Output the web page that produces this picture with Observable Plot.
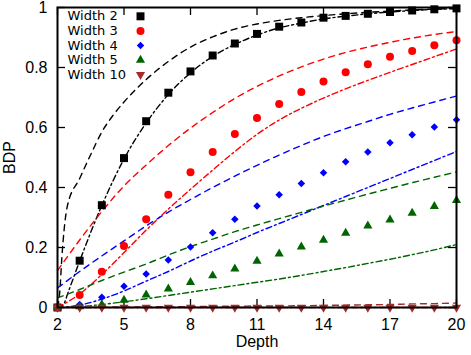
<!DOCTYPE html>
<html>
<head>
<meta charset="utf-8">
<script src="https://cdn.jsdelivr.net/npm/d3@7"></script>
<script src="https://cdn.jsdelivr.net/npm/@observablehq/plot@0.6"></script>
<style>
  body { margin: 0; background: #fff; }
  #chart svg { display: block; }
</style>
</head>
<body>
<div id="chart"></div>
<script>
// Tree depth (x) and tick values
const depths = [2, 3, 4, 5, 6, 7, 8, 9, 10, 11, 12, 13, 14, 15, 16, 17, 18, 19, 20];
const xTicks = [2, 5, 8, 11, 14, 17, 20];
const yTicks = [0, 0.2, 0.4, 0.6, 0.8, 1];

const seriesLabels = ["Width 2", "Width 3", "Width 4", "Width 5", "Width 10"];

// Measured BDP per depth
const bdpWidth2 = [0, 0.156, 0.341, 0.498, 0.621, 0.716, 0.787, 0.840, 0.880, 0.912, 0.936, 0.950, 0.966, 0.972, 0.979, 0.985, 0.990, 0.994, 0.997];
const bdpWidth3 = [0, 0.042, 0.119, 0.205, 0.294, 0.376, 0.451, 0.518, 0.578, 0.632, 0.678, 0.718, 0.753, 0.784, 0.811, 0.836, 0.855, 0.874, 0.891];
const bdpWidth4 = [0, 0.010, 0.034, 0.071, 0.112, 0.158, 0.202, 0.249, 0.294, 0.338, 0.376, 0.413, 0.449, 0.486, 0.518, 0.549, 0.576, 0.602, 0.626];
const bdpWidth5 = [0, 0.003, 0.010, 0.025, 0.042, 0.062, 0.084, 0.106, 0.129, 0.155, 0.179, 0.202, 0.225, 0.248, 0.272, 0.292, 0.315, 0.337, 0.357];
const bdpWidth10 = [0, 0, 0, 0, 0, 0, 0, 0, 0, 0, 0, 0, 0, 0, 0, 0, 0, 0, 0];

// Upper bounds (dashed)
const upper2Depths = [2, 2.1, 2.2, 2.3, 2.45, 3, 3.5, 4, 4.5, 5, 6, 7, 8, 9, 10, 11, 12, 13, 14, 15, 16, 17, 18, 19, 20];
const upperWidth2 = [0, 0.05, 0.17, 0.26, 0.34, 0.43, 0.51, 0.585, 0.64, 0.685, 0.76, 0.82, 0.868, 0.902, 0.928, 0.945, 0.957, 0.966, 0.973, 0.979, 0.984, 0.988, 0.992, 0.995, 0.997];
const upperWidth3 = [0.123, 0.225, 0.32, 0.405, 0.475, 0.54, 0.598, 0.65, 0.697, 0.737, 0.772, 0.802, 0.828, 0.85, 0.868, 0.884, 0.898, 0.91, 0.92];
const upperWidth4 = [0.065, 0.12, 0.172, 0.222, 0.272, 0.318, 0.36, 0.40, 0.438, 0.474, 0.508, 0.54, 0.57, 0.596, 0.62, 0.644, 0.665, 0.685, 0.705];
const upperWidth5 = [0.032, 0.06, 0.09, 0.118, 0.145, 0.175, 0.203, 0.228, 0.253, 0.275, 0.296, 0.317, 0.338, 0.358, 0.378, 0.397, 0.416, 0.434, 0.452];
const upperWidth10 = [0, 0.001, 0.001, 0.002, 0.002, 0.003, 0.003, 0.004, 0.004, 0.005, 0.005, 0.006, 0.007, 0.008, 0.009, 0.010, 0.012, 0.013, 0.015];

// Lower bounds (dash-dot)
const lower2Depths = [2, 2.25, 2.5, 3, 4, 5, 6, 7, 8, 9, 10, 11, 12, 13, 14, 15, 16, 17, 18, 19, 20];
const lowerWidth2 = [0, 0.008, 0.055, 0.155, 0.34, 0.495, 0.615, 0.71, 0.782, 0.837, 0.877, 0.908, 0.932, 0.948, 0.962, 0.971, 0.979, 0.985, 0.99, 0.994, 0.996];
const lowerWidth3 = [0, 0.045, 0.11, 0.183, 0.258, 0.328, 0.394, 0.458, 0.52, 0.577, 0.625, 0.664, 0.698, 0.729, 0.757, 0.784, 0.81, 0.836, 0.862];
const lowerWidth4 = [0, 0.008, 0.028, 0.055, 0.088, 0.12, 0.155, 0.188, 0.218, 0.25, 0.28, 0.31, 0.34, 0.37, 0.40, 0.43, 0.46, 0.49, 0.52];
const lowerWidth5 = [0, 0.003, 0.01, 0.019, 0.029, 0.04, 0.051, 0.062, 0.073, 0.084, 0.095, 0.107, 0.12, 0.133, 0.147, 0.161, 0.176, 0.192, 0.21];
const lowerWidth10 = [0, 0, 0, 0, 0, 0, 0, 0, 0, 0, 0, 0, 0, 0, 0, 0, 0, 0, 0];

// Styling per series
const colors = ["#000000", "#ff0000", "#0000ff", "#006400", "#a52a2a"];
const symbols = ["square", "circle", "diamond2", "triangle", "triangle"];
const rotations = [0, 0, 0, 0, 180];
const radii = [4.5, 4, 3.4, 3.4, 3.4];

const bdp = [bdpWidth2, bdpWidth3, bdpWidth4, bdpWidth5, bdpWidth10];
const upper = [upperWidth2, upperWidth3, upperWidth4, upperWidth5, upperWidth10];
const lower = [lowerWidth2, lowerWidth3, lowerWidth4, lowerWidth5, lowerWidth10];
const upperX = [upper2Depths, depths, depths, depths, depths];
const lowerX = [lower2Depths, depths, depths, depths, depths];

const W = 471, H = 355;
const mL = 57, mR = 15, mT = 7, mB = 48;
const innerW = W - mL - mR, innerH = H - mT - mB;
const tick = 8;

const toRows = (xs, ys) => xs.map((d, j) => ({depth: d, value: ys[j]}));

const marks = [];

// inward ticks on all four sides
marks.push(
  Plot.ruleX(xTicks, {x: d => d, insetTop: innerH - tick, strokeWidth: 1.3}),
  Plot.ruleX(xTicks, {x: d => d, insetBottom: innerH - tick, strokeWidth: 1.3}),
  Plot.ruleY(yTicks, {y: d => d, insetRight: innerW - tick, strokeWidth: 1.3}),
  Plot.ruleY(yTicks, {y: d => d, insetLeft: innerW - tick, strokeWidth: 1.3})
);

// bounds then measured points, series by series
seriesLabels.forEach((label, i) => {
  marks.push(
    Plot.line(toRows(upperX[i], upper[i]), {
      x: "depth", y: "value", stroke: colors[i], strokeWidth: 1.4,
      strokeDasharray: "6,5", curve: "monotone-x"
    }),
    Plot.line(toRows(lowerX[i], lower[i]), {
      x: "depth", y: "value", stroke: colors[i], strokeWidth: 1.4,
      strokeDasharray: "6,3,2,3", curve: "monotone-x"
    })
  );
});
seriesLabels.forEach((label, i) => {
  marks.push(
    Plot.dot(toRows(depths, bdp[i]), {
      x: "depth", y: "value", symbol: symbols[i], r: radii[i],
      fill: colors[i], stroke: "none", rotate: rotations[i]
    })
  );
});

marks.push(Plot.frame({stroke: "#000", strokeWidth: 2}));

// axes
marks.push(
  Plot.axisX({ticks: xTicks, tickSize: 0, tickPadding: 11, label: null, tickFormat: d => String(d)}),
  Plot.axisY({ticks: yTicks, tickSize: 0, tickPadding: 10, label: null, tickFormat: d => String(d)}),
  Plot.text(["Depth"], {frameAnchor: "bottom", dy: 34, lineAnchor: "middle", textAnchor: "middle"}),
  Plot.text(["BDP"], {frameAnchor: "left", dx: -48, rotate: -90, lineAnchor: "middle", textAnchor: "middle"})
);

// legend, top-left inside the frame
seriesLabels.forEach((label, i) => {
  const dy = 8.8 + i * 14.6;
  marks.push(
    Plot.text([label], {
      frameAnchor: "top-left", dx: 10, dy, textAnchor: "start", lineAnchor: "middle",
      fontFamily: "DejaVu Sans, sans-serif", fontSize: 13, letterSpacing: 0.5
    }),
    Plot.dot([label], {frameAnchor: "top-left", dx: 83, dy, symbol: symbols[i], r: radii[i], fill: colors[i], stroke: "none", rotate: rotations[i]})
  );
});

const chart = Plot.plot({
  width: W,
  height: H,
  marginLeft: mL,
  marginRight: mR,
  marginTop: mT,
  marginBottom: mB,
  x: {type: "linear", domain: [2, 20]},
  y: {type: "linear", domain: [0, 1]},
  style: {fontFamily: "Liberation Sans, Arial, sans-serif", fontSize: "16px", color: "#000", background: "#fff"},
  marks
});

document.getElementById("chart").append(chart);
</script>
</body>
</html>
